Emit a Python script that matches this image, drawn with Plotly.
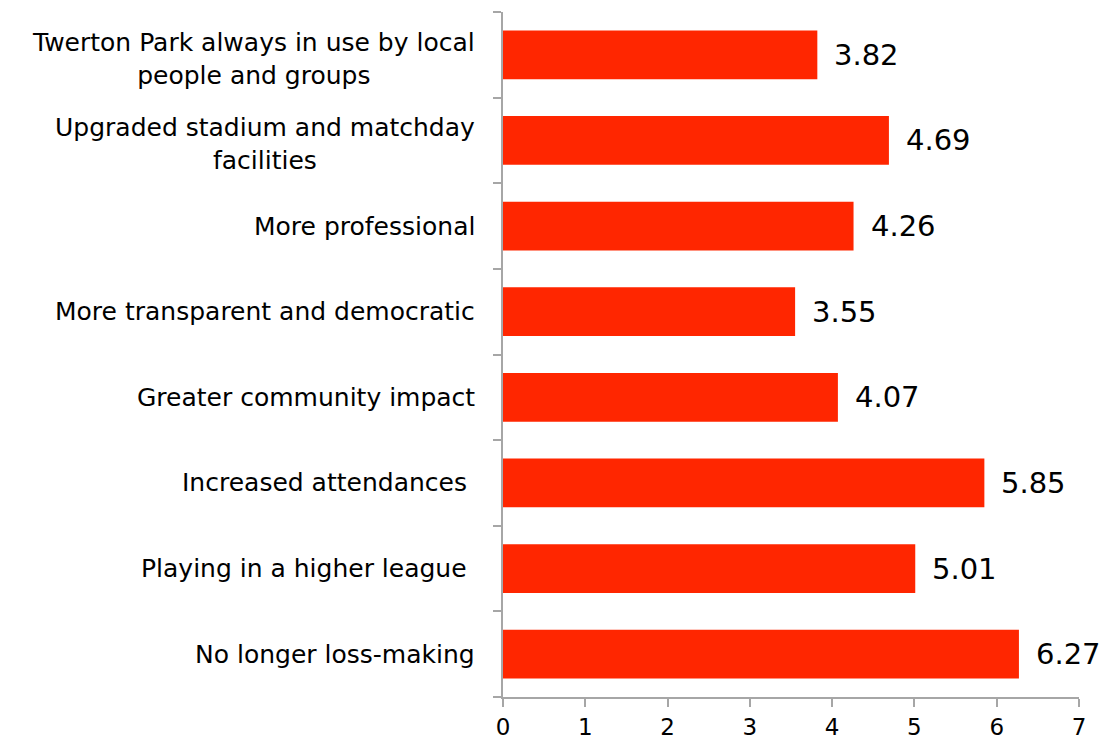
import plotly.graph_objects as go

categories = [
    "Twerton Park always in use by local<br>people and groups",
    "Upgraded stadium and matchday<br>facilities",
    "More professional",
    "More transparent and democratic",
    "Greater community impact",
    "Increased attendances ",
    "Playing in a higher league ",
    "No longer loss-making",
]
scores = [3.82, 4.69, 4.26, 3.55, 4.07, 5.85, 5.01, 6.27]
x_ticks = [0, 1, 2, 3, 4, 5, 6, 7]

FONT = "DejaVu Sans"
BAR = "#FF2600"
AXIS = "#A6A6A6"

fig = go.Figure(
    go.Bar(
        x=scores,
        y=list(range(len(categories))),
        orientation="h",
        marker=dict(color=BAR, line=dict(width=0)),
        width=0.57,
        hoverinfo="skip",
    )
)

# value labels to the right of each bar
for i, v in enumerate(scores):
    fig.add_annotation(
        x=v, y=i, xref="x", yref="y",
        text=f"{v:.2f}", showarrow=False,
        xanchor="left", yanchor="middle", xshift=15,
        font=dict(family=FONT, size=29, color="#000000"),
    )

# category labels, centred lines, right edge next to the axis
for i, c in enumerate(categories):
    two_lines = "<br>" in c
    fig.add_annotation(
        x=0, y=i, xref="paper", yref="y",
        text=c, showarrow=False, align="center",
        xanchor="right", yanchor="middle", xshift=-26,
        yshift=-4 if two_lines else 0,
        font=dict(family=FONT, size=25, color="#000000"),
    )

fig.update_layout(
    width=1107, height=743,
    margin=dict(l=503, r=28, t=12, b=46),
    plot_bgcolor="white", paper_bgcolor="white",
    showlegend=False,
    font=dict(family=FONT, size=22, color="#000000"),
)
fig.update_xaxes(
    range=[0, 7], tickvals=x_ticks, ticktext=[str(t) for t in x_ticks],
    showgrid=False, zeroline=False,
    showline=True, linecolor=AXIS, linewidth=1.5,
    ticks="outside", ticklen=8, tickcolor=AXIS, tickwidth=1.5,
    ticklabelstandoff=1,
    tickfont=dict(family=FONT, size=23, color="#000000"),
    automargin=False, fixedrange=True,
)
fig.update_yaxes(
    range=[7.5, -0.5],
    tickvals=[k - 0.5 for k in range(len(categories) + 1)],
    showticklabels=False,
    showgrid=False, zeroline=False,
    showline=True, linecolor=AXIS, linewidth=1.5,
    ticks="outside", ticklen=8, tickcolor=AXIS, tickwidth=1.5,
    automargin=False, fixedrange=True,
)

fig.write_html("out.html")
